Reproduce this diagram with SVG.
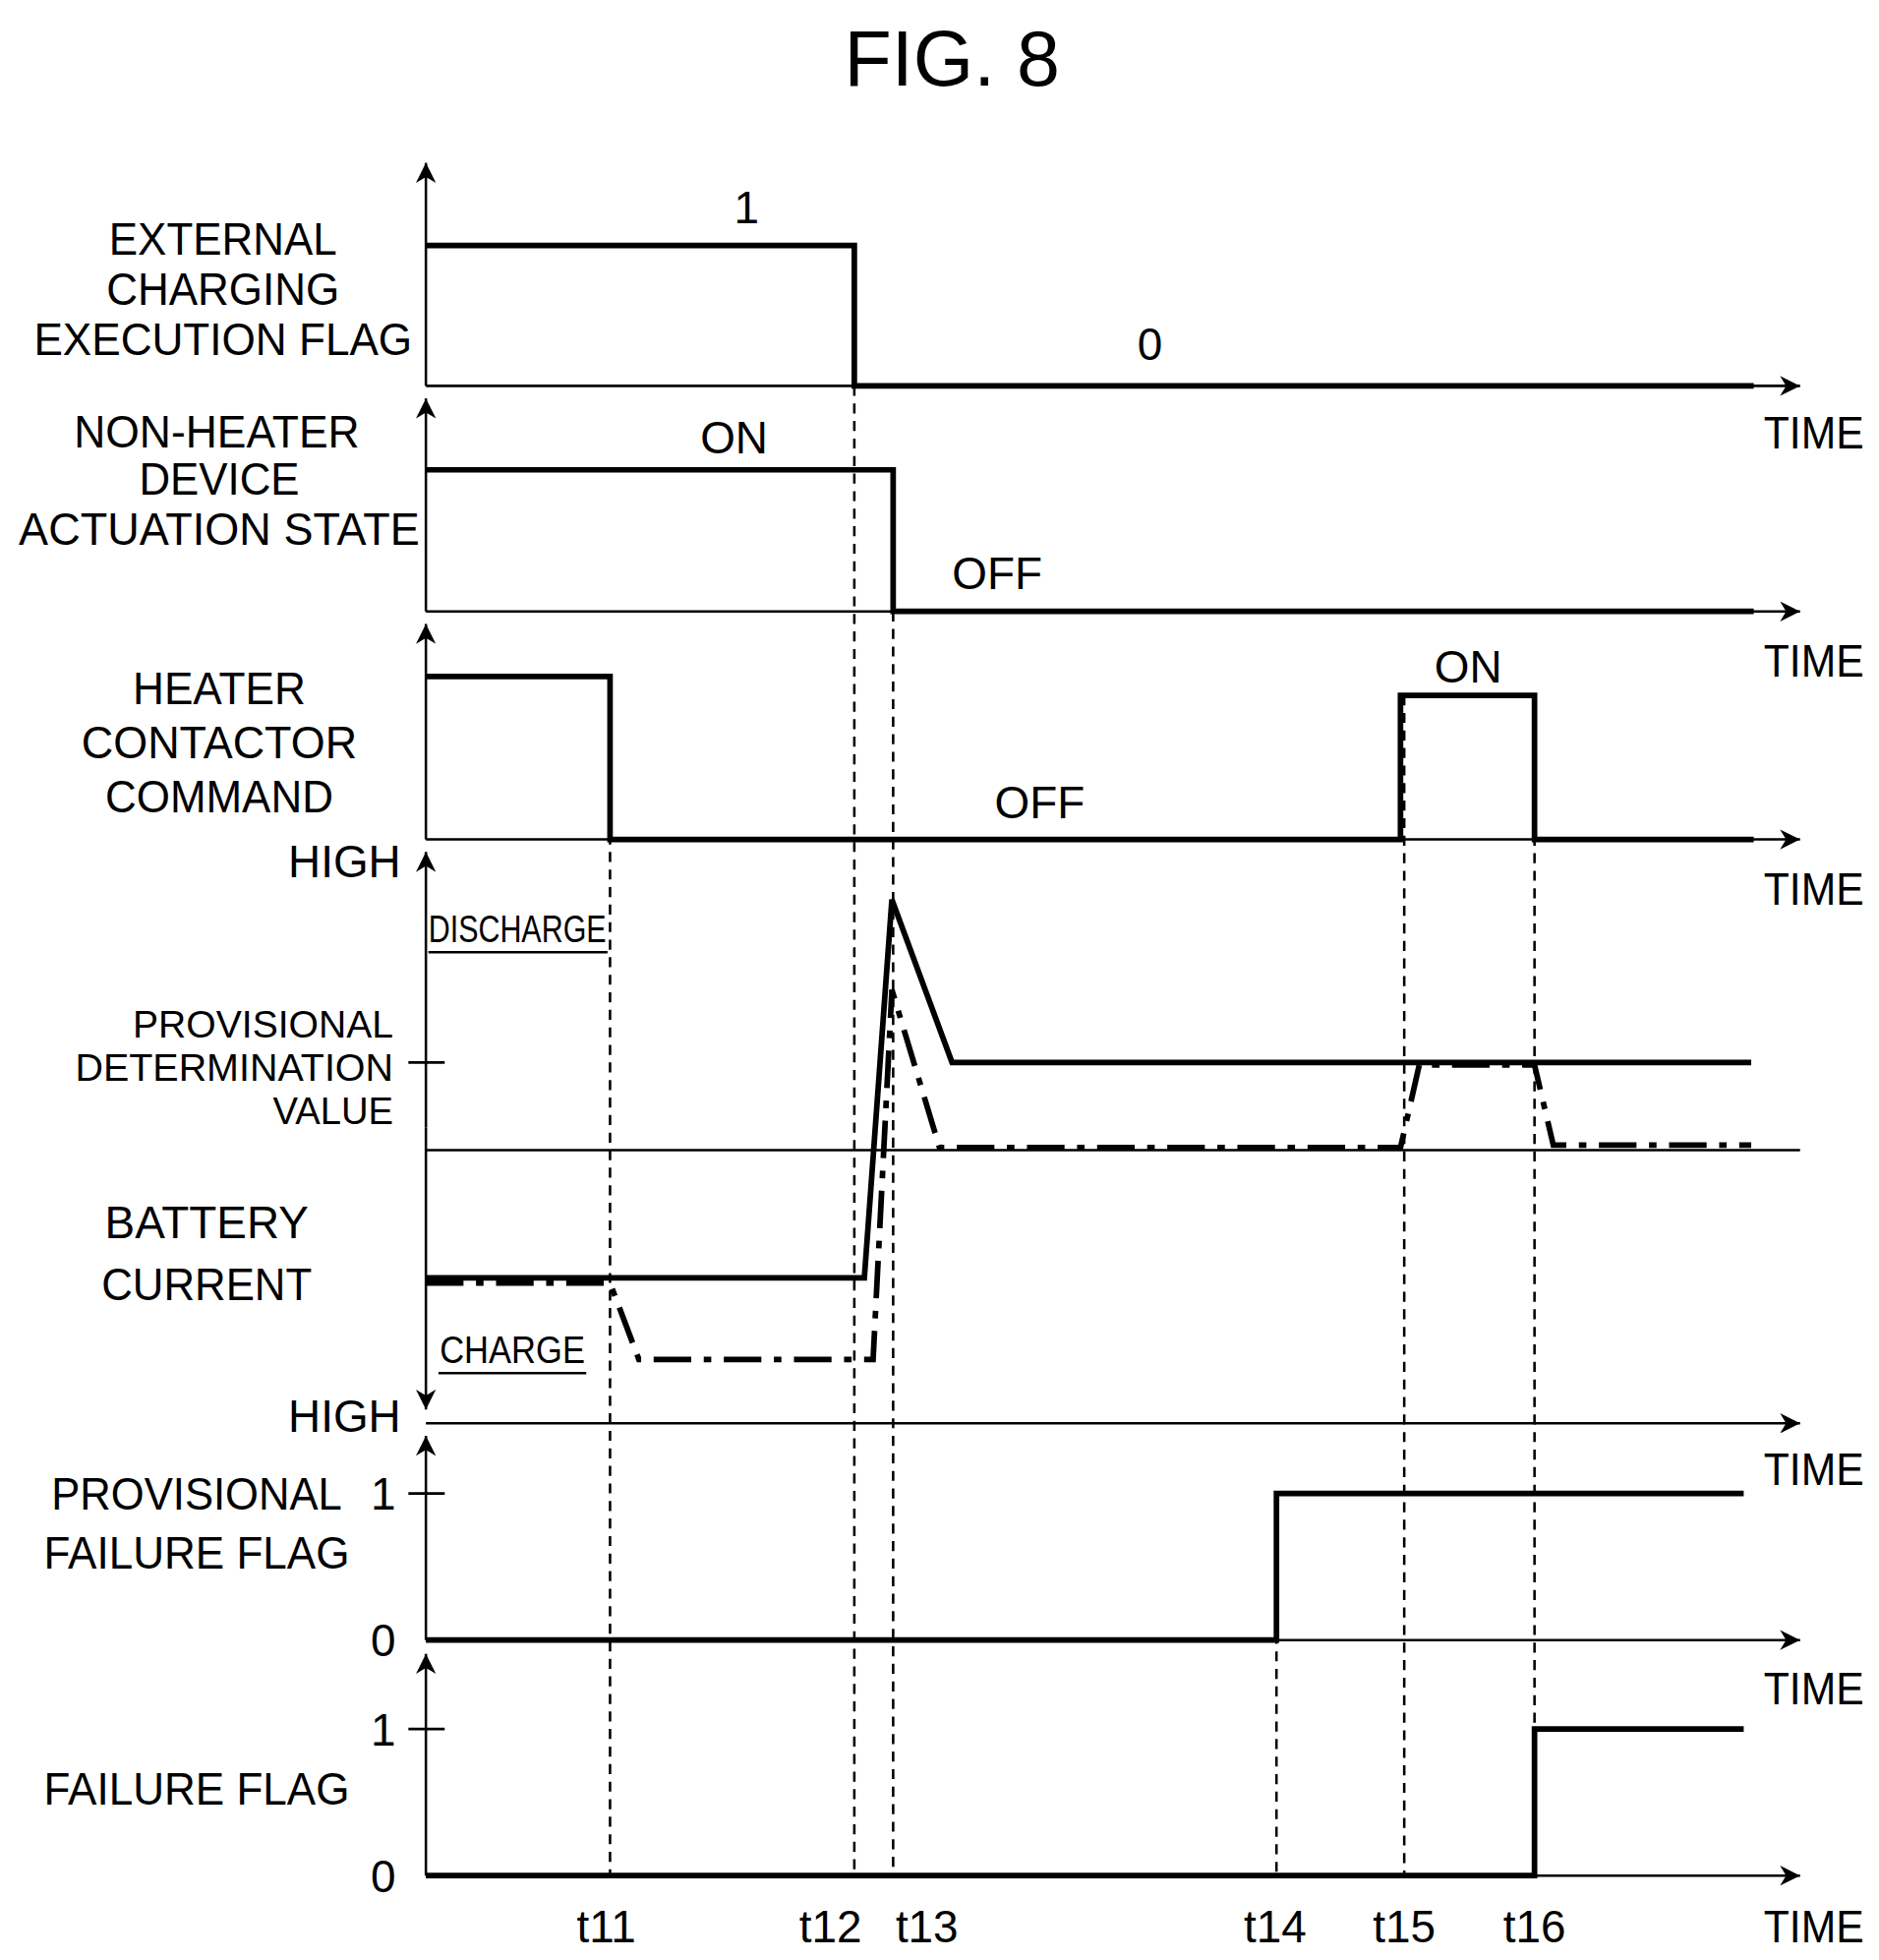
<svg xmlns="http://www.w3.org/2000/svg" width="1911" height="1993" viewBox="0 0 1911 1993">
<style>
text{font-family:"Liberation Sans",Arial,sans-serif;font-size:36px;fill:#000}
.c{text-anchor:middle}.r{text-anchor:end}.s{font-size:30px}
.ax{stroke:#000;stroke-width:2;fill:none}
.sig{stroke:#000;stroke-width:4.5;fill:none}
.dd{stroke:#000;stroke-width:4.5;fill:none;stroke-dasharray:30 10 6 10}
.ds{stroke:#000;stroke-width:2;fill:none;stroke-dasharray:8 6}
</style>
<defs><marker id="a" viewBox="0 0 10 10" refX="10" refY="5" markerWidth="24" markerHeight="16" markerUnits="userSpaceOnUse" orient="auto"><path d="M0,0 L10,5 L0,10 L3,5 Z" fill="#000"/></marker></defs>
<rect width="1911" height="1993" fill="#fff"/>
<g transform="scale(1.274)">
<text x="760" y="68" class="c" style="font-size:62px">FIG. 8</text>
<g id="axes">
<path class="ax" d="M340 308V130" marker-end="url(#a)"/>
<path class="ax" d="M340 308H1437" marker-end="url(#a)"/>
<path class="ax" d="M340 488V318" marker-end="url(#a)"/>
<path class="ax" d="M340 488H1437" marker-end="url(#a)"/>
<path class="ax" d="M340 670V498" marker-end="url(#a)"/>
<path class="ax" d="M340 670H1437" marker-end="url(#a)"/>
<path class="ax" d="M340 900V680" marker-end="url(#a)"/>
<path class="ax" d="M340 900V1125" marker-end="url(#a)"/>
<path class="ax" d="M340 918H1437"/>
<path class="ax" d="M340 1136H1437" marker-end="url(#a)"/>
<path class="ax" d="M340 1309V1146" marker-end="url(#a)"/>
<path class="ax" d="M340 1309H1437" marker-end="url(#a)"/>
<path class="ax" d="M340 1497V1320" marker-end="url(#a)"/>
<path class="ax" d="M340 1497H1437" marker-end="url(#a)"/>
<path class="ax" d="M326 848H355M326 1192H355M326 1380H355"/>
<path class="ax" d="M342 760H485M350 1096H468"/>
</g>
<g id="connectors">
<path class="ds" d="M487 540V1497M682 308V1497M713 488V1497M1019 1192V1497M1121 555V1497M1225 555V1497"/>
<path class="sig" d="M340 196H682V308H1400"/>
<path class="sig" d="M340 375H713V488H1400"/>
<path class="sig" d="M340 540H487V670H1118V555H1225V670H1400"/>
<path class="sig" d="M340 1020H690L712 718L760 848H1398"/>
<path class="dd" d="M340 1024H487L510 1085H697L712 790L750 916H1118L1133 850H1225L1240 914H1398"/>
<path class="sig" d="M340 1309H1019V1192H1392"/>
<path class="sig" d="M340 1497H1225V1380H1392"/>
</g>
<g id="labels">
<text x="178" y="203" class="c" textLength="182" lengthAdjust="spacingAndGlyphs">EXTERNAL</text>
<text x="178" y="243" class="c" textLength="186" lengthAdjust="spacingAndGlyphs">CHARGING</text>
<text x="178" y="283" class="c" textLength="302" lengthAdjust="spacingAndGlyphs">EXECUTION FLAG</text>
<text x="173" y="357" class="c" textLength="228" lengthAdjust="spacingAndGlyphs">NON-HEATER</text>
<text x="175" y="395" class="c" textLength="128" lengthAdjust="spacingAndGlyphs">DEVICE</text>
<text x="175" y="435" class="c" textLength="320" lengthAdjust="spacingAndGlyphs">ACTUATION STATE</text>
<text x="175" y="562" class="c" textLength="138" lengthAdjust="spacingAndGlyphs">HEATER</text>
<text x="175" y="605" class="c" textLength="220" lengthAdjust="spacingAndGlyphs">CONTACTOR</text>
<text x="175" y="648" class="c" textLength="182" lengthAdjust="spacingAndGlyphs">COMMAND</text>
<text x="320" y="700" class="r">HIGH</text>
<text x="320" y="1143" class="r">HIGH</text>
<text x="413" y="752" class="c s" textLength="142" lengthAdjust="spacingAndGlyphs">DISCHARGE</text>
<text x="409" y="1088" class="c s" textLength="116" lengthAdjust="spacingAndGlyphs">CHARGE</text>
<text x="314" y="828" class="r s" textLength="208" lengthAdjust="spacingAndGlyphs">PROVISIONAL</text>
<text x="314" y="863" class="r s" textLength="254" lengthAdjust="spacingAndGlyphs">DETERMINATION</text>
<text x="314" y="897" class="r s">VALUE</text>
<text x="165" y="988" class="c">BATTERY</text>
<text x="165" y="1038" class="c" textLength="168" lengthAdjust="spacingAndGlyphs">CURRENT</text>
<text x="157" y="1205" class="c" textLength="232" lengthAdjust="spacingAndGlyphs">PROVISIONAL</text>
<text x="157" y="1252" class="c" textLength="244" lengthAdjust="spacingAndGlyphs">FAILURE FLAG</text>
<text x="157" y="1440" class="c" textLength="244" lengthAdjust="spacingAndGlyphs">FAILURE FLAG</text>
<text x="316" y="1205" class="r">1</text>
<text x="316" y="1322" class="r">0</text>
<text x="316" y="1393" class="r">1</text>
<text x="316" y="1510" class="r">0</text>
<text x="596" y="178" class="c">1</text>
<text x="918" y="287" class="c">0</text>
<text x="586" y="362" class="c">ON</text>
<text x="796" y="470" class="c">OFF</text>
<text x="1172" y="545" class="c">ON</text>
<text x="830" y="653" class="c">OFF</text>
<text x="1408" y="358" textLength="80" lengthAdjust="spacingAndGlyphs">TIME</text>
<text x="1408" y="540" textLength="80" lengthAdjust="spacingAndGlyphs">TIME</text>
<text x="1408" y="722" textLength="80" lengthAdjust="spacingAndGlyphs">TIME</text>
<text x="1408" y="1185" textLength="80" lengthAdjust="spacingAndGlyphs">TIME</text>
<text x="1408" y="1360" textLength="80" lengthAdjust="spacingAndGlyphs">TIME</text>
<text x="1408" y="1550" textLength="80" lengthAdjust="spacingAndGlyphs">TIME</text>
<text x="484" y="1550" class="c">t11</text>
<text x="663" y="1550" class="c">t12</text>
<text x="740" y="1550" class="c">t13</text>
<text x="1018" y="1550" class="c">t14</text>
<text x="1121" y="1550" class="c">t15</text>
<text x="1225" y="1550" class="c">t16</text>
</g>
</g>
</svg>
